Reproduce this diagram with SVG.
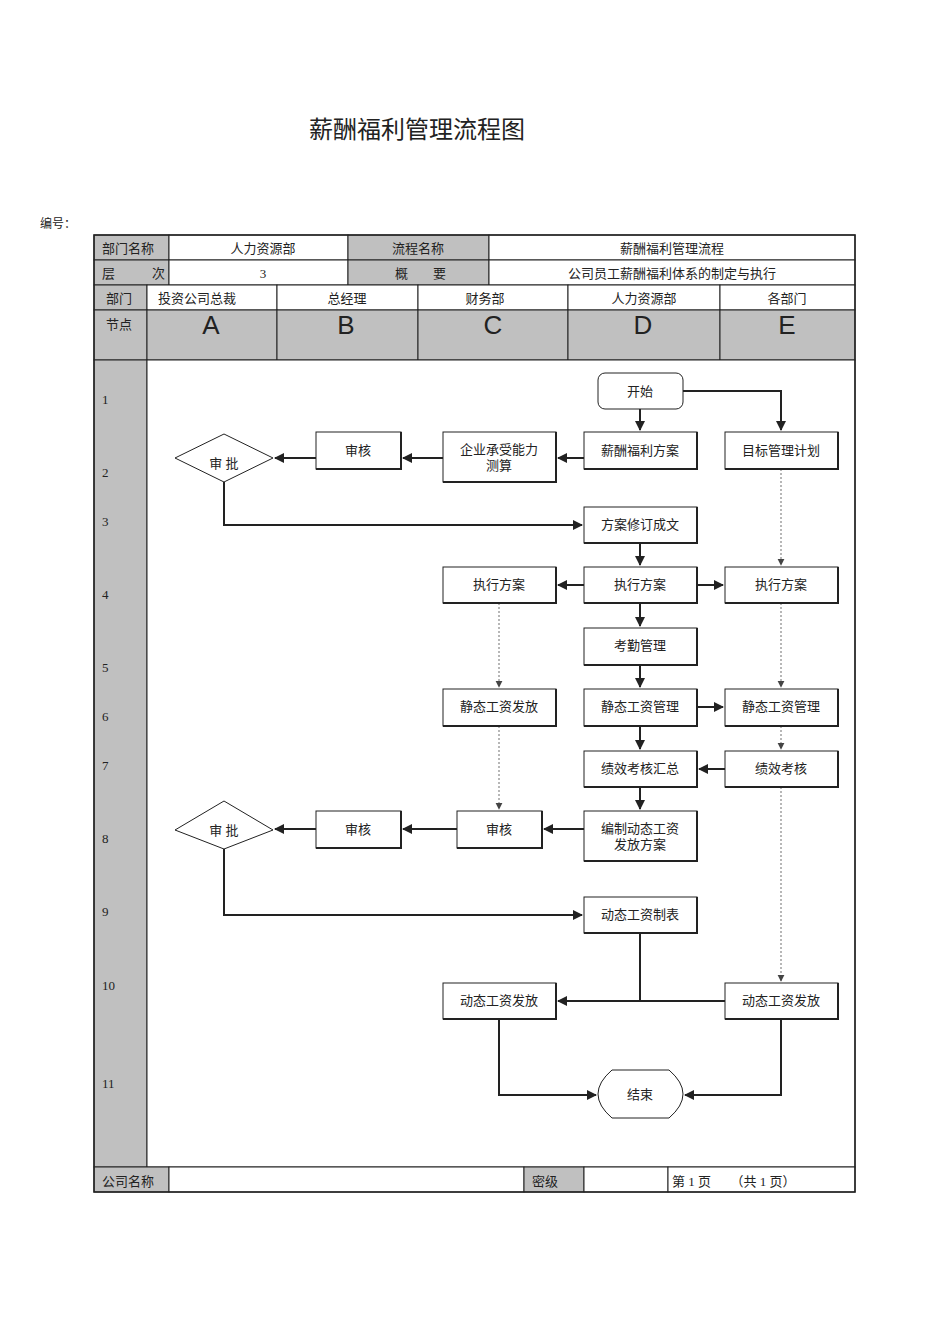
<svg xmlns="http://www.w3.org/2000/svg" width="950" height="1318" viewBox="0 0 950 1318">
<style>
text{font-family:"Liberation Serif","Noto Sans CJK SC",serif;fill:#222;font-size:13px}
.c{text-anchor:middle}
.g{fill:#c0c0c0;stroke:#222;stroke-width:1}
.w{fill:#fff;stroke:#222;stroke-width:1}
.big{font-family:"Liberation Sans","Noto Sans CJK SC",sans-serif;font-size:26px}
.box{fill:#fff;stroke:#222;stroke-width:1}
.sh{fill:none;stroke:#222;stroke-width:2}
.ln{fill:none;stroke:#222;stroke-width:2}
.dt{fill:none;stroke:#888;stroke-width:1.2;stroke-dasharray:2 2}
</style>
<defs>
<marker id="a" viewBox="0 0 10 10" refX="9" refY="5" markerWidth="5" markerHeight="5" orient="auto"><path d="M0,0L10,5L0,10z" fill="#222"/></marker>
<marker id="ad" viewBox="0 0 10 10" refX="9" refY="5" markerWidth="6" markerHeight="6" orient="auto"><path d="M0,0L10,5L0,10z" fill="#444"/></marker>
</defs>
<rect width="950" height="1318" fill="#fff"/>
<text x="417" y="138" class="c" style="font-size:24px">薪酬福利管理流程图</text>
<text x="40" y="228" style="font-size:12px">编号：</text>
<g id="table">
<rect x="94" y="235" width="75" height="25" class="g"/><rect x="169" y="235" width="179" height="25" class="w"/>
<rect x="348" y="235" width="141" height="25" class="g"/><rect x="489" y="235" width="366" height="25" class="w"/>
<rect x="94" y="260" width="75" height="25" class="g"/><rect x="169" y="260" width="179" height="25" class="w"/>
<rect x="348" y="260" width="141" height="25" class="g"/><rect x="489" y="260" width="366" height="25" class="w"/>
<rect x="94" y="285" width="53" height="25" class="g"/>
<rect x="147" y="285" width="130" height="25" class="w"/><rect x="277" y="285" width="141" height="25" class="w"/>
<rect x="418" y="285" width="150" height="25" class="w"/><rect x="568" y="285" width="152" height="25" class="w"/>
<rect x="720" y="285" width="135" height="25" class="w"/>
<rect x="94" y="310" width="53" height="50" class="g"/>
<rect x="147" y="310" width="130" height="50" class="g"/><rect x="277" y="310" width="141" height="50" class="g"/>
<rect x="418" y="310" width="150" height="50" class="g"/><rect x="568" y="310" width="152" height="50" class="g"/>
<rect x="720" y="310" width="135" height="50" class="g"/>
<rect x="94" y="360" width="53" height="807" class="g"/><rect x="147" y="360" width="708" height="807" class="w"/>
<rect x="94" y="1167" width="75" height="25" class="g"/><rect x="169" y="1167" width="355" height="25" class="w"/>
<rect x="524" y="1167" width="60" height="25" class="g"/><rect x="584" y="1167" width="84" height="25" class="w"/>
<rect x="668" y="1167" width="187" height="25" class="w"/>
<rect x="94" y="235" width="761" height="957" fill="none" stroke="#222" stroke-width="1.5"/>
<text x="102" y="253">部门名称</text><text x="263" y="253" class="c">人力资源部</text>
<text x="418" y="253" class="c">流程名称</text><text x="672" y="253" class="c">薪酬福利管理流程</text>
<text x="102" y="278">层</text><text x="152" y="278">次</text><text x="263" y="278" class="c">3</text>
<text x="395" y="278">概</text><text x="433" y="278">要</text><text x="672" y="278" class="c">公司员工薪酬福利体系的制定与执行</text>
<text x="106" y="303">部门</text><text x="197" y="303" class="c">投资公司总裁</text><text x="347" y="303" class="c">总经理</text>
<text x="485" y="303" class="c">财务部</text><text x="644" y="303" class="c">人力资源部</text><text x="787" y="303" class="c">各部门</text>
<text x="106" y="329">节点</text>
<text x="211" y="334" class="c big">A</text><text x="346" y="334" class="c big">B</text><text x="493" y="334" class="c big">C</text>
<text x="643" y="334" class="c big">D</text><text x="787" y="334" class="c big">E</text>
<text x="102" y="404">1</text><text x="102" y="477">2</text><text x="102" y="526">3</text><text x="102" y="599">4</text>
<text x="102" y="672">5</text><text x="102" y="721">6</text><text x="102" y="770">7</text><text x="102" y="843">8</text>
<text x="102" y="916">9</text><text x="102" y="990">10</text><text x="102" y="1088">11</text>
<text x="102" y="1186">公司名称</text><text x="532" y="1186">密级</text><text x="672" y="1186">第 1 页　　（共 1 页）</text>
</g>
<g id="connectors">
<path d="M640,409V430" class="ln" marker-end="url(#a)"/>
<path d="M683,391H781V430" class="ln" marker-end="url(#a)"/>
<path d="M584,458H558" class="ln" marker-end="url(#a)"/>
<path d="M443,458H403" class="ln" marker-end="url(#a)"/>
<path d="M316,458H275" class="ln" marker-end="url(#a)"/>
<path d="M224,482V525H582" class="ln" marker-end="url(#a)"/>
<path d="M781,469V565" class="dt" marker-end="url(#ad)"/>
<path d="M640,543V565" class="ln" marker-end="url(#a)"/>
<path d="M584,585H558" class="ln" marker-end="url(#a)"/>
<path d="M697,585H723" class="ln" marker-end="url(#a)"/>
<path d="M640,603V626" class="ln" marker-end="url(#a)"/>
<path d="M640,665V687" class="ln" marker-end="url(#a)"/>
<path d="M499,603V687" class="dt" marker-end="url(#ad)"/>
<path d="M781,603V687" class="dt" marker-end="url(#ad)"/>
<path d="M697,707H723" class="ln" marker-end="url(#a)"/>
<path d="M640,726V749" class="ln" marker-end="url(#a)"/>
<path d="M781,726V749" class="dt" marker-end="url(#ad)"/>
<path d="M725,769H699" class="ln" marker-end="url(#a)"/>
<path d="M640,787V809" class="ln" marker-end="url(#a)"/>
<path d="M499,726V809" class="dt" marker-end="url(#ad)"/>
<path d="M584,829H544" class="ln" marker-end="url(#a)"/>
<path d="M457,829H403" class="ln" marker-end="url(#a)"/>
<path d="M316,829H275" class="ln" marker-end="url(#a)"/>
<path d="M224,849V915H582" class="ln" marker-end="url(#a)"/>
<path d="M781,787V981" class="dt" marker-end="url(#ad)"/>
<path d="M640,933V1001" class="ln"/>
<path d="M725,1001H558" class="ln" marker-end="url(#a)"/>
<path d="M499,1019V1095H596" class="ln" marker-end="url(#a)"/>
<path d="M781,1019V1095H685" class="ln" marker-end="url(#a)"/>
</g>
<g id="start"><rect x="598" y="373" width="85" height="36" rx="7" class="box" stroke-width="1.5"/><text x="640" y="396" class="c">开始</text></g>
<g id="n_xcfl"><rect x="584" y="432" width="113" height="37" class="box"/><path d="M697,432V469H584" class="sh"/><text x="640" y="455" class="c">薪酬福利方案</text></g>
<g id="n_mbgl"><rect x="725" y="432" width="113" height="37" class="box"/><path d="M838,432V469H725" class="sh"/><text x="781" y="455" class="c">目标管理计划</text></g>
<g id="n_qycs"><rect x="443" y="432" width="113" height="50" class="box"/><path d="M556,432V482H443" class="sh"/><text x="499" y="454" class="c">企业承受能力</text><text x="499" y="470" class="c">测算</text></g>
<g id="n_sh1"><rect x="316" y="432" width="85" height="37" class="box"/><path d="M401,432V469H316" class="sh"/><text x="358" y="455" class="c">审核</text></g>
<g id="n_sp1"><path d="M175,458L224,434L273,458L224,482Z" class="box" stroke-width="1.5"/><text x="224" y="468" class="c">审 批</text></g>
<g id="n_faxd"><rect x="584" y="507" width="113" height="36" class="box"/><path d="M697,507V543H584" class="sh"/><text x="640" y="529" class="c">方案修订成文</text></g>
<g id="n_zxC"><rect x="443" y="567" width="113" height="36" class="box"/><path d="M556,567V603H443" class="sh"/><text x="499" y="589" class="c">执行方案</text></g>
<g id="n_zxD"><rect x="584" y="567" width="113" height="36" class="box"/><path d="M697,567V603H584" class="sh"/><text x="640" y="589" class="c">执行方案</text></g>
<g id="n_zxE"><rect x="725" y="567" width="113" height="36" class="box"/><path d="M838,567V603H725" class="sh"/><text x="781" y="589" class="c">执行方案</text></g>
<g id="n_kq"><rect x="584" y="628" width="113" height="37" class="box"/><path d="M697,628V665H584" class="sh"/><text x="640" y="650" class="c">考勤管理</text></g>
<g id="n_jtC"><rect x="443" y="689" width="113" height="37" class="box"/><path d="M556,689V726H443" class="sh"/><text x="499" y="711" class="c">静态工资发放</text></g>
<g id="n_jtD"><rect x="584" y="689" width="113" height="37" class="box"/><path d="M697,689V726H584" class="sh"/><text x="640" y="711" class="c">静态工资管理</text></g>
<g id="n_jtE"><rect x="725" y="689" width="113" height="37" class="box"/><path d="M838,689V726H725" class="sh"/><text x="781" y="711" class="c">静态工资管理</text></g>
<g id="n_jxD"><rect x="584" y="751" width="113" height="36" class="box"/><path d="M697,751V787H584" class="sh"/><text x="640" y="773" class="c">绩效考核汇总</text></g>
<g id="n_jxE"><rect x="725" y="751" width="113" height="36" class="box"/><path d="M838,751V787H725" class="sh"/><text x="781" y="773" class="c">绩效考核</text></g>
<g id="n_sp2"><path d="M175,830L224,801L273,830L224,849Z" class="box" stroke-width="1.5"/><text x="224" y="835" class="c">审 批</text></g>
<g id="n_sh2"><rect x="316" y="811" width="85" height="37" class="box"/><path d="M401,811V848H316" class="sh"/><text x="358" y="834" class="c">审核</text></g>
<g id="n_sh3"><rect x="457" y="811" width="85" height="37" class="box"/><path d="M542,811V848H457" class="sh"/><text x="499" y="834" class="c">审核</text></g>
<g id="n_bz"><rect x="584" y="811" width="113" height="50" class="box"/><path d="M697,811V861H584" class="sh"/><text x="640" y="833" class="c">编制动态工资</text><text x="640" y="849" class="c">发放方案</text></g>
<g id="n_dtzb"><rect x="584" y="897" width="113" height="36" class="box"/><path d="M697,897V933H584" class="sh"/><text x="640" y="919" class="c">动态工资制表</text></g>
<g id="n_dtC"><rect x="443" y="983" width="113" height="36" class="box"/><path d="M556,983V1019H443" class="sh"/><text x="499" y="1005" class="c">动态工资发放</text></g>
<g id="n_dtE"><rect x="725" y="983" width="113" height="36" class="box"/><path d="M838,983V1019H725" class="sh"/><text x="781" y="1005" class="c">动态工资发放</text></g>
<g id="end"><path d="M612,1070H669Q683,1082 683,1094Q683,1106 669,1118H612Q598,1106 598,1094Q598,1082 612,1070Z" class="box" stroke-width="1.5"/><text x="640" y="1099" class="c">结束</text></g>
</svg>
